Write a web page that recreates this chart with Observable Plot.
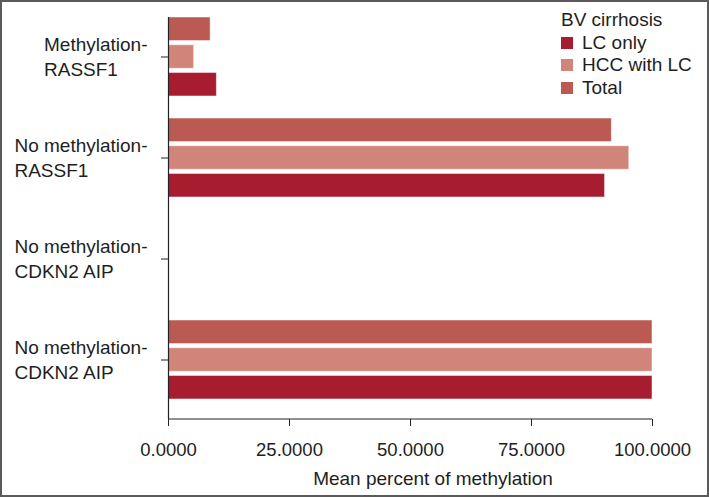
<!DOCTYPE html>
<html>
<head>
<meta charset="utf-8">
<script src="https://cdn.jsdelivr.net/npm/d3@7"></script>
<script src="https://cdn.jsdelivr.net/npm/@observablehq/plot@0.6"></script>
<style>
  html, body { margin: 0; padding: 0; background: white; }
  #wrap { position: relative; width: 709px; height: 497px; overflow: hidden; background: white;
          font-family: "Liberation Sans", Arial, sans-serif; color: #1e1e1e; }
  #border { position: absolute; left: 0; top: 0; width: 709px; height: 497px; box-sizing: border-box;
            border: 2px solid #5a5a5a; pointer-events: none; }
  #legend { position: absolute; left: 561px; top: 9px; font-size: 19px; line-height: 22.5px; color: #1e1e1e; }
  #legend .sw { display: inline-block; width: 12px; height: 12px; margin-right: 9px; vertical-align: baseline; }
  #wrap svg { position: absolute; left: 0; top: 0; }
</style>
</head>
<body>
<div id="wrap"><div id="border"></div></div>
<script>
// ---- data ----
const categories = [
  "Methylation-\nRASSF1",
  "No methylation-\nRASSF1",
  "No methylation-\nCDKN2 AIP",
  "No methylation-\nCDKN2 AIP"
];
const series = ["LC only", "HCC with LC", "Total"];
const seriesColors = ["#a81c30", "#d1857a", "#ba5a52"];
const lcOnly    = [10.0, 90.2, null, 100];
const hccWithLc = [5.3, 95.2, null, 100];
const total     = [8.7, 91.6, null, 100];
const xTicks = [0, 25, 50, 75, 100];
const legendTitle = "BV cirrhosis";
const xLabel = "Mean percent of methylation";

// ---- table ----
const keys = categories.map((_, i) => i);
const valuesBySeries = {"LC only": lcOnly, "HCC with LC": hccWithLc, "Total": total};
const rows = [];
series.forEach(s => keys.forEach(i => {
  const v = valuesBySeries[s][i];
  if (v != null) rows.push({key: i, series: s, value: v});
}));

// sub-bar layout inside each band (top: Total, middle: HCC with LC, bottom: LC only)
const barH = 24;
const bandW = 79.46;
const gap = (bandW - 3 * barH) / 2;
const insets = {
  "Total":       {insetTop: 0,                 insetBottom: 2 * (barH + gap)},
  "HCC with LC": {insetTop: barH + gap,        insetBottom: barH + gap},
  "LC only":     {insetTop: 2 * (barH + gap),  insetBottom: 0}
};

const chart = Plot.plot({
  width: 709,
  height: 497,
  marginTop: 17,
  marginBottom: 78,
  marginLeft: 168,
  marginRight: 57,
  style: {fontFamily: '"Liberation Sans", Arial, sans-serif', fontSize: "19px", color: "#1e1e1e", background: "transparent"},
  x: {domain: [0, 100]},
  y: {domain: keys, paddingInner: 0.22, paddingOuter: 0.083, align: 0},
  color: {domain: series, range: seriesColors},
  marks: [
    ...series.map(s => Plot.barX(rows.filter(d => d.series === s), {
      x: "value", y: "key", fill: "series",
      stroke: "white", strokeOpacity: 0.5, strokeWidth: 1,
      ...insets[s]
    })),
    Plot.ruleX([0], {stroke: "#222", strokeWidth: 1.2}),
    Plot.axisX({ticks: xTicks, tickFormat: d => d.toFixed(4), tickSize: 7, tickPadding: 16,
                label: null, fontSize: "18.5px", stroke: "#222"}),
    Plot.axisY({tickFormat: i => categories[i], tickSize: 7, tickPadding: 14, label: null,
                lineHeight: 1.32, fontSize: "19px"}),
    Plot.text([xLabel], {frameAnchor: "bottom", text: d => d, dx: 22.5, dy: 65.5, fontSize: "19px", fill: "#1e1e1e"})
  ]
});

const wrap = document.getElementById("wrap");
wrap.insertBefore(chart, document.getElementById("border"));

// x-axis line from 0 to 100, drawn with the library's x scale
const xs = chart.scale("x");
const ns = "http://www.w3.org/2000/svg";
const axisLine = document.createElementNS(ns, "line");
axisLine.setAttribute("x1", xs.apply(xTicks[0]));
axisLine.setAttribute("x2", xs.apply(xTicks[xTicks.length - 1]));
axisLine.setAttribute("y1", 497 - 78);
axisLine.setAttribute("y2", 497 - 78);
axisLine.setAttribute("stroke", "#222");
axisLine.setAttribute("stroke-width", "1.2");
chart.appendChild(axisLine);

// left-align the lines of each y tick label block, keeping the block's right edge at the tick;
// nudge the block up slightly to match the reference
chart.querySelectorAll('g[aria-label="y-axis tick label"] text').forEach(t => {
  const w = t.getBBox().width;
  t.setAttribute("text-anchor", "start");
  t.setAttribute("transform", (t.getAttribute("transform") || "") + ` translate(${-w},-2)`);
});

// legend
const legend = document.createElement("div");
legend.id = "legend";
const title = document.createElement("div");
title.textContent = legendTitle;
legend.appendChild(title);
series.forEach((s, i) => {
  const row = document.createElement("div");
  const sw = document.createElement("span");
  sw.className = "sw";
  sw.style.background = seriesColors[i];
  row.appendChild(sw);
  row.appendChild(document.createTextNode(s));
  legend.appendChild(row);
});
wrap.insertBefore(legend, document.getElementById("border"));
</script>
</body>
</html>
